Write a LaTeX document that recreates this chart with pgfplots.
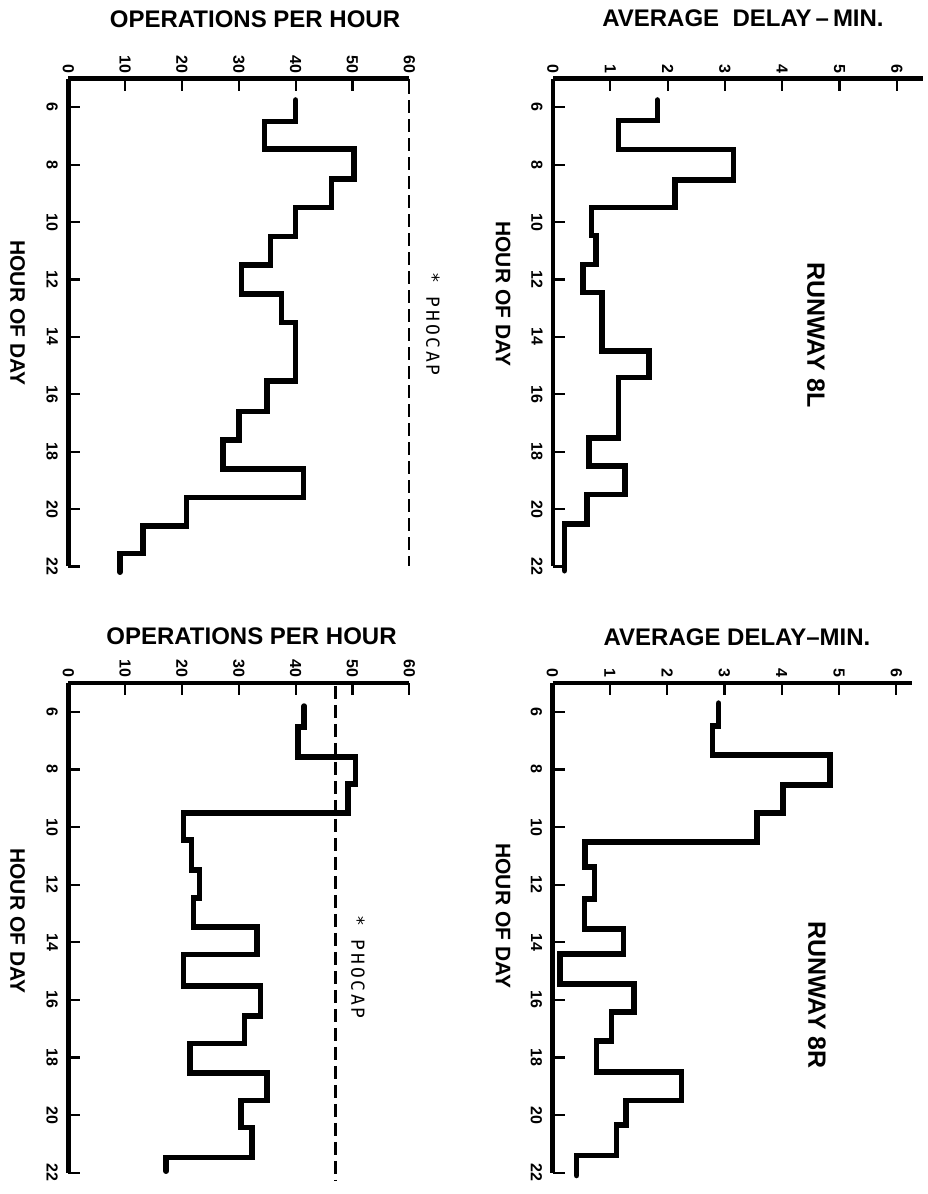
\documentclass[border=0pt]{standalone}
\usepackage{fontspec}
\setmainfont{Liberation Sans}
\newfontfamily\phofont[LetterSpace=15]{DejaVu Sans Mono}
\usepackage{pgfplots}
\pgfplotsset{compat=1.18}
\pgfplotsset{
  panel/.style={
    scale only axis, anchor=north west, clip=false,
    y dir=reverse, ymin=5, ymax=22, xmin=0,
    ytick={6,8,...,22},
    axis x line*=top, axis y line*=left,
    x axis line style={-, line width=2.4pt},
    y axis line style={-, line width=2.4pt},
    tick align=inside, major tick length=6pt,
    tick style={black, line width=1.1pt},
    /pgf/number format/assume math mode=true,
    xticklabel style={rotate=-90, anchor=east, inner sep=2.5pt, font=\bfseries\fontsize{8}{9}\selectfont},
    yticklabel style={rotate=-90, anchor=north, inner sep=5pt, font=\bfseries\fontsize{8}{9}\selectfont},
  },
  stepline/.style={black, line width=2.8pt, line cap=round, line join=miter},
  capline/.style={black, line width=1.1pt, dash pattern=on 6.5pt off 3pt},
}
\begin{document}
\begin{tikzpicture}
\useasboundingbox (0,0) rectangle (463.5pt,-597pt);
% ---------------- Runway 8L : operations per hour
\begin{axis}[panel, at={(34.15pt,-39.25pt)}, width=170.5pt, height=243.95pt,
  xmax=60, xtick={0,10,...,60}]
\addplot[capline] coordinates {(60,5.1) (60,22)};
\addplot[stepline] coordinates {
(40,5.75)(40,6.5)(34.5,6.5)(34.5,7.45)(50.3,7.45)(50.3,8.5)(46.3,8.5)(46.3,9.5)
(40,9.5)(40,10.5)(35.6,10.5)(35.6,11.5)(30.5,11.5)(30.5,12.5)(37.5,12.5)(37.5,13.5)
(40,13.5)(40,15.55)(35,15.55)(35,16.6)(30,16.6)(30,17.6)(27.2,17.6)(27.2,18.6)
(41.4,18.6)(41.4,19.6)(20.8,19.6)(20.8,20.6)(13.1,20.6)(13.1,21.55)(9.1,21.55)(9.1,22.2)};
\end{axis}
% ---------------- Runway 8L : average delay
\begin{axis}[panel, at={(276.5pt,-39.25pt)}, width=184.8pt, height=243.95pt,
  xmax=6.45, xtick={0,1,...,6}]
\addplot[stepline] coordinates {
(1.82,5.75)(1.82,6.47)(1.14,6.47)(1.14,7.47)(3.15,7.47)(3.15,8.53)(2.13,8.53)(2.13,9.5)
(0.67,9.5)(0.67,10.47)(0.75,10.47)(0.75,11.48)(0.52,11.48)(0.52,12.45)(0.85,12.45)(0.85,14.49)
(1.68,14.49)(1.68,15.42)(1.14,15.42)(1.14,17.52)(0.63,17.52)(0.63,18.5)(1.26,18.5)(1.26,19.5)
(0.59,19.5)(0.59,20.53)(0.2,20.53)(0.2,22.15)};
\end{axis}
% ---------------- Runway 8R : operations per hour
\begin{axis}[panel, at={(34.15pt,-341.5pt)}, width=170.5pt, height=244.8pt,
  xmax=60, xtick={0,10,...,60}]
\addplot[capline] coordinates {(47,5.1) (47,22.27)};
\addplot[stepline] coordinates {
(41.5,5.8)(41.5,6.52)(40.4,6.52)(40.4,7.56)(50.5,7.56)(50.5,8.5)(49.2,8.5)(49.2,9.52)
(20.3,9.52)(20.3,10.46)(21.7,10.46)(21.7,11.5)(23.1,11.5)(23.1,12.46)(22,12.46)(22,13.47)
(33.2,13.47)(33.2,14.43)(20.3,14.43)(20.3,15.52)(33.8,15.52)(33.8,16.56)(31,16.56)(31,17.51)
(21.4,17.51)(21.4,18.55)(35,18.55)(35,19.5)(30.4,19.5)(30.4,20.43)(32.3,20.43)(32.3,21.47)
(17.2,21.47)(17.2,21.95)};
\end{axis}
% ---------------- Runway 8R : average delay
\begin{axis}[panel, at={(276.25pt,-341.5pt)}, width=179.65pt, height=244.8pt,
  xmax=6.27, xtick={0,1,...,6}]
\addplot[stepline] coordinates {
(2.9,5.7)(2.9,6.5)(2.79,6.5)(2.79,7.49)(4.84,7.49)(4.84,8.55)(4.02,8.55)(4.02,9.51)
(3.57,9.51)(3.57,10.53)(0.57,10.53)(0.57,11.39)(0.73,11.39)(0.73,12.5)(0.56,12.5)(0.56,13.55)
(1.24,13.55)(1.24,14.4)(0.13,14.4)(0.13,15.45)(1.42,15.45)(1.42,16.42)(1.03,16.42)(1.03,17.42)
(0.77,17.42)(0.77,18.5)(2.25,18.5)(2.25,19.5)(1.28,19.5)(1.28,20.35)(1.12,20.35)(1.12,21.4)
(0.42,21.4)(0.42,22.1)};
\end{axis}
% ---------------- texts
\tikzset{ttl/.style={font=\bfseries\fontsize{12}{14}\selectfont, inner sep=0pt},
         hod/.style={font=\bfseries\fontsize{10.5}{12}\selectfont, rotate=-90, inner sep=0pt},
         rwy/.style={font=\bfseries\fontsize{12.5}{14}\selectfont, rotate=-90, inner sep=0pt},
         pho/.style={font=\phofont\fontsize{9}{11}\selectfont, rotate=-90, inner sep=0pt}}
\node[ttl] at (127.5pt,-9.5pt) {OPERATIONS PER HOUR};
\node[ttl] at (371.5pt,-9pt) {AVERAGE~~DELAY\,--\,MIN.};
\node[ttl] at (125.75pt,-318pt) {OPERATIONS PER HOUR};
\node[ttl] at (368.5pt,-318.5pt) {AVERAGE DELAY--MIN.};
\node[hod] at (8.75pt,-156.5pt) {HOUR OF DAY};
\node[hod] at (251.5pt,-147pt) {HOUR OF DAY};
\node[hod] at (8.75pt,-460.5pt) {HOUR OF DAY};
\node[hod] at (251.5pt,-458pt) {HOUR OF DAY};
\node[rwy] at (408pt,-167.5pt) {RUNWAY 8L};
\node[rwy] at (408.5pt,-497.5pt) {RUNWAY 8R};
\node[pho] at (216.5pt,-162pt) {* PHOCAP};
\node[pho] at (179pt,-483.5pt) {* PHOCAP};
\end{tikzpicture}
\end{document}
